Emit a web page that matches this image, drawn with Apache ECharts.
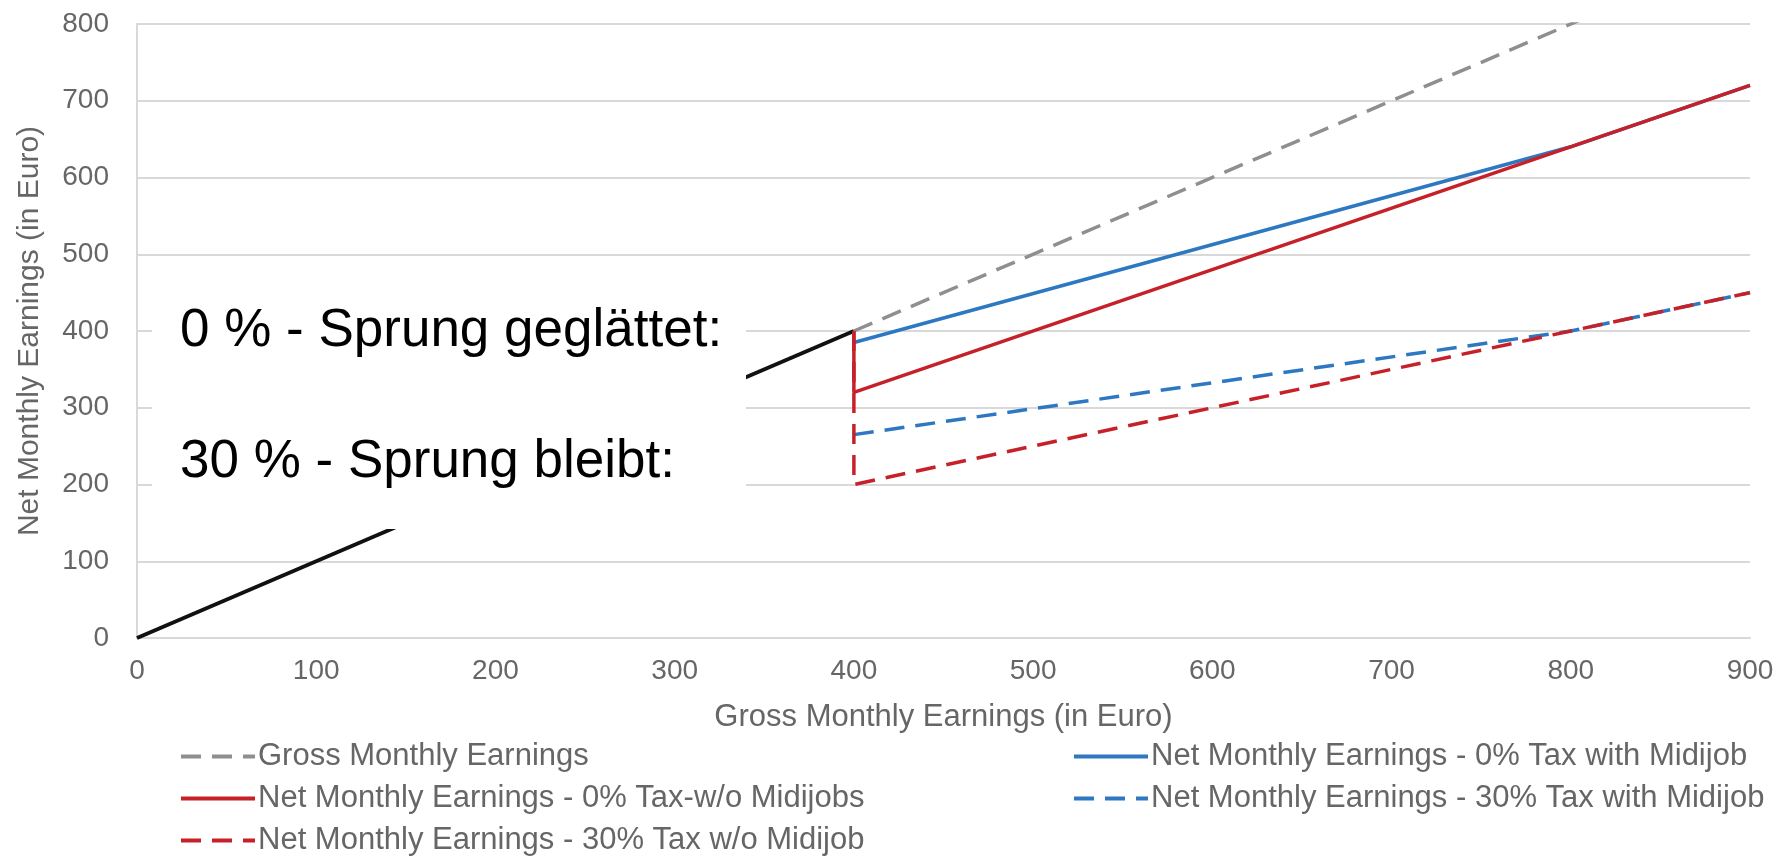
<!DOCTYPE html>
<html>
<head>
<meta charset="utf-8">
<title>Gross vs. Net Monthly Earnings</title>
<script src="https://cdn.jsdelivr.net/npm/echarts@6/dist/echarts.min.js"></script>
<style>
  html, body { margin: 0; padding: 0; background: #ffffff; }
  #chart { width: 1785px; height: 859px; }
</style>
</head>
<body>
<div id="chart"></div>
<script>
// Axis ticks
const xTicks = [0, 100, 200, 300, 400, 500, 600, 700, 800, 900];
const yTicks = [0, 100, 200, 300, 400, 500, 600, 700, 800];

// Minijob range: net equals gross
const miniX = [0, 400];
const miniY = [0, 400];

// Gross monthly earnings above the threshold
const grossX = [400, 900];
const grossY = [400, 900];

// Net earnings, 0 % tax, without Midijob rules
const net0NoMidiX = [400, 400, 900];
const net0NoMidiY = [400, 320, 720];

// Net earnings, 30 % tax, without Midijob rules
const net30NoMidiX = [400, 400, 900];
const net30NoMidiY = [400, 200, 450];

// Net earnings, 0 % tax, with Midijob rules
const net0MidiX = [400, 800, 900];
const net0MidiY = [385, 640, 720];

// Net earnings, 30 % tax, with Midijob rules
const net30MidiX = [400, 800, 900];
const net30MidiY = [265, 400, 450];

const NAMES = {
  gross: 'Gross Monthly Earnings',
  net0NoMidi: 'Net Monthly Earnings - 0% Tax-w/o Midijobs',
  net30NoMidi: 'Net Monthly Earnings - 30% Tax w/o Midijob',
  net0Midi: 'Net Monthly Earnings - 0% Tax with Midijob',
  net30Midi: 'Net Monthly Earnings - 30% Tax with Midijob'
};

const FONT = '"Liberation Sans", Arial, Helvetica, sans-serif';
const TEXT_GREY = '#666666';
const GRID_GREY = '#d9d9d9';
const RED = '#c62129';
const BLUE = '#2e78c2';
const GREY = '#8f8f8f';
const DASH = [20, 11];

function pairs(xs, ys) {
  return xs.map((x, i) => [x, ys[i]]);
}

function lineSeries(name, xs, ys, color, dashed, z, width) {
  return {
    name: name,
    type: 'line',
    data: pairs(xs, ys),
    symbol: 'none',
    clip: true,
    z: z,
    lineStyle: { color: color, width: width || 3.5, type: dashed ? DASH : 'solid', cap: 'butt' },
    itemStyle: { color: color },
    emphasis: { disabled: true },
    animation: false
  };
}

const chart = echarts.init(document.getElementById('chart'), null, { renderer: 'canvas' });

const legendBase = {
  orient: 'vertical',
  padding: 0,
  itemWidth: 74,
  itemHeight: 14,
  itemGap: 11,
  selectedMode: false,
  itemStyle: { opacity: 0 },
  lineStyle: { width: 4 },
  textStyle: { fontFamily: FONT, fontSize: 31, color: TEXT_GREY, lineHeight: 30, padding: [0, 0, 0, -2] }
};

chart.setOption({
  animation: false,
  backgroundColor: '#ffffff',
  grid: { left: 137, right: 35, top: 24, bottom: 221, containLabel: false },
  xAxis: {
    type: 'value',
    min: xTicks[0],
    max: xTicks[xTicks.length - 1],
    interval: xTicks[1] - xTicks[0],
    name: 'Gross Monthly Earnings (in Euro)',
    nameLocation: 'middle',
    nameGap: 64,
    nameTextStyle: { fontFamily: FONT, fontSize: 31, color: TEXT_GREY },
    axisLine: { show: true, lineStyle: { color: GRID_GREY, width: 2 } },
    axisTick: { show: false },
    splitLine: { show: false },
    axisLabel: { fontFamily: FONT, fontSize: 28, color: TEXT_GREY, margin: 19 }
  },
  yAxis: {
    type: 'value',
    min: yTicks[0],
    max: yTicks[yTicks.length - 1],
    interval: yTicks[1] - yTicks[0],
    name: 'Net Monthly Earnings (in Euro)',
    nameLocation: 'middle',
    nameGap: 92,
    nameTextStyle: { fontFamily: FONT, fontSize: 30, color: TEXT_GREY },
    axisLine: { show: true, lineStyle: { color: GRID_GREY, width: 2 } },
    axisTick: { show: false },
    splitLine: { show: true, lineStyle: { color: GRID_GREY, width: 2 } },
    axisLabel: { fontFamily: FONT, fontSize: 28, color: TEXT_GREY, margin: 28 }
  },
  legend: [
    Object.assign({}, legendBase, {
      left: 179, top: 741,
      data: [NAMES.gross, NAMES.net0NoMidi, NAMES.net30NoMidi]
    }),
    Object.assign({}, legendBase, {
      left: 1072, top: 741,
      data: [NAMES.net0Midi, NAMES.net30Midi]
    })
  ],
  series: [
    lineSeries('Minijob', miniX, miniY, '#111111', false, 2, 4),
    lineSeries(NAMES.gross, grossX, grossY, GREY, true, 2),
    lineSeries(NAMES.net0Midi, net0MidiX, net0MidiY, BLUE, false, 3),
    lineSeries(NAMES.net30Midi, net30MidiX, net30MidiY, BLUE, true, 3),
    lineSeries(NAMES.net30NoMidi, net30NoMidiX, net30NoMidiY, RED, true, 4),
    lineSeries(NAMES.net0NoMidi, net0NoMidiX, net0NoMidiY, RED, false, 5)
  ],
  graphic: [
    {
      type: 'rect',
      z: 100,
      shape: { x: 152, y: 288, width: 594, height: 241 },
      style: { fill: '#ffffff' }
    },
    {
      type: 'text',
      z: 101,
      x: 180, y: 331,
      style: {
        text: '0 % - Sprung geglättet:',
        fontFamily: FONT, fontSize: 53, fill: '#000000',
        verticalAlign: 'middle', align: 'left'
      }
    },
    {
      type: 'text',
      z: 101,
      x: 180, y: 462,
      style: {
        text: '30 % - Sprung bleibt:',
        fontFamily: FONT, fontSize: 53, fill: '#000000',
        verticalAlign: 'middle', align: 'left'
      }
    }
  ]
});
</script>
</body>
</html>
